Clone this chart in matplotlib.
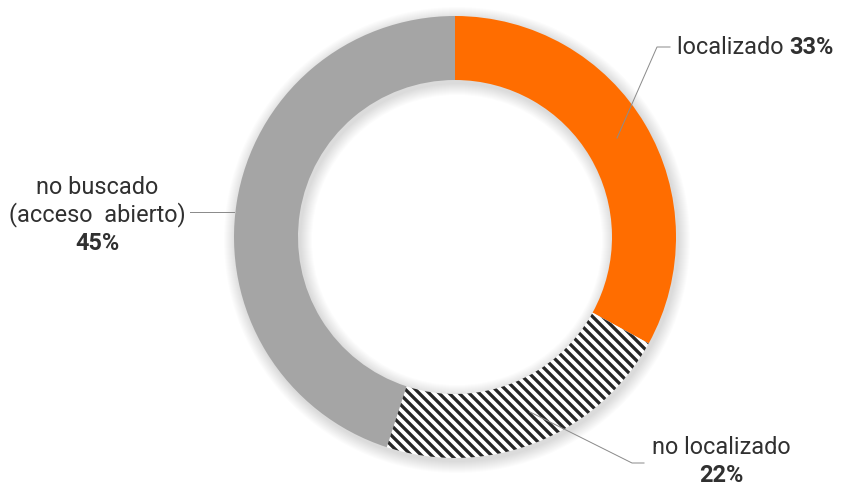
import numpy as np
import matplotlib.pyplot as plt
from matplotlib.patches import Wedge

DPI = 60
PX = 72 / DPI  # points per pixel

plt.rcParams['font.family'] = ['Roboto', 'DejaVu Sans']

# share of records by search status, clockwise from 12 o'clock
names = ['localizado', 'no localizado', 'no buscado', '(acceso  abierto)']
shares = [33, 22, 45]
colors = ['#ff6d00', 'white', '#a5a5a5']
striped = [False, True, False]

W, H = 842, 491
fig = plt.figure(figsize=(W / DPI, H / DPI), dpi=DPI)
ax = fig.add_axes([0, 0, 1, 1])

cx, cy, R, ring = 455, H - 237, 221, 64

# soft shadow around the ring
for k in range(12):
    ax.add_patch(Wedge((cx + 2, cy - 3), R + 12 - k, 0, 360, width=ring + 24 - 2 * k,
                       facecolor='#000000', alpha=0.012, lw=0))

wedges, _ = ax.pie(shares, colors=colors, startangle=90, counterclock=False,
                   center=(cx, cy), radius=R, wedgeprops=dict(width=ring, linewidth=0))

# diagonal stripes, clipped to the wedge
step = 10
for w, s in zip(wedges, striped):
    if not s:
        continue
    xs = np.array([cx - R - 20, cx + R + 20])
    for c in np.arange(cx + cy - 2 * R, cx + cy + 2 * R, step):
        ln, = ax.plot(xs, c - xs, color='#262626', lw=3.3 * PX, solid_capstyle='butt')
        ln.set_clip_path(w)

ax.set_xlim(0, W)
ax.set_ylim(0, H)
ax.set_aspect('equal')
ax.axis('off')

fs = 23.5 * PX
txt = '#303030'
line = dict(color='#8c8c8c', lw=1.0 * PX)


def label(x, y, name, pct, ha):
    t = ax.text(x, y, name + ' ', fontsize=fs, color=txt, va='center', ha=ha)
    ax.annotate(pct, xy=(1, 0.5), xycoords=t, va='center', ha='left',
                fontsize=fs, color=txt, fontweight='bold')


# localizado
ax.plot([617, 657, 670], [H - 138, H - 47, H - 47], **line)
label(677, H - 47, names[0], f'{shares[0]}%', 'left')

# no localizado
ax.plot([530, 632, 644], [H - 412, H - 463, H - 463], **line)
ax.text(721, H - 448, names[1], fontsize=fs, color=txt, va='center', ha='center')
ax.text(721, H - 476, f'{shares[1]}%', fontsize=fs, color=txt, va='center', ha='center',
        fontweight='bold')

# no buscado (acceso abierto)
ax.plot([190, 234], [H - 212, H - 212], **line)
ax.text(97, H - 187, names[2], fontsize=fs, color=txt, va='center', ha='center')
ax.text(97, H - 215, names[3], fontsize=fs, color=txt, va='center', ha='center')
ax.text(97, H - 243, f'{shares[2]}%', fontsize=fs, color=txt, va='center', ha='center',
        fontweight='bold')

fig.savefig('out.png', dpi=DPI, facecolor='white')
